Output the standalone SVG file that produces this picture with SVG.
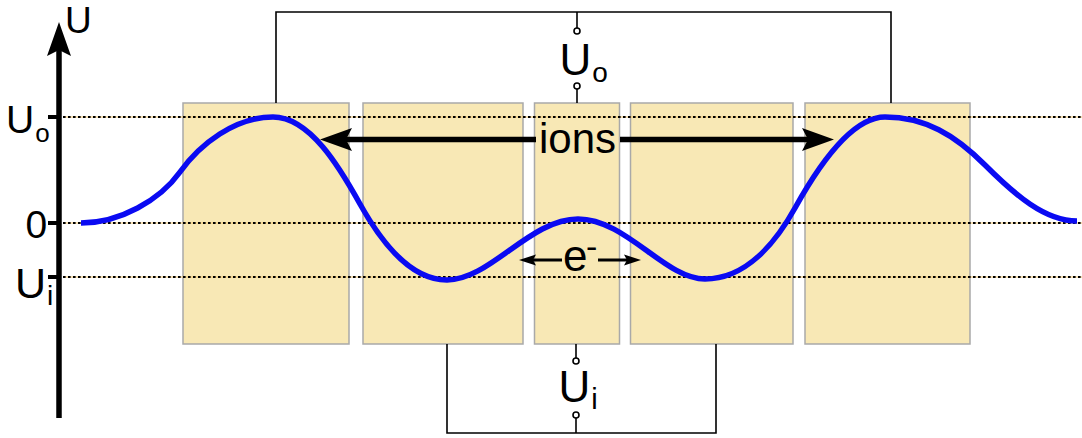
<svg xmlns="http://www.w3.org/2000/svg" width="1082" height="438" viewBox="0 0 1082 438">
<style>
.box{fill:#f8e8b5;stroke:#a9a9a9;stroke-width:1.5}
.wire{fill:none;stroke:#000;stroke-width:1.6}
.term{fill:#fff;stroke:#000;stroke-width:1.6}
.guide{stroke:#f2c46a;stroke-width:1}
.dots{stroke:#000;stroke-width:2;stroke-dasharray:2.6 2.4}
.lbl{font-family:"Liberation Sans",Arial,sans-serif;fill:#000}
.curve{fill:none;stroke:#0a0af2;stroke-width:5.5;stroke-linejoin:round}
</style>
<rect width="1082" height="438" fill="#fff"/>
<g id="electrodes">
<rect id="e1" class="box" x="183" y="103" width="166" height="241"/>
<rect id="e2" class="box" x="363" y="103" width="160" height="241"/>
<rect id="e3" class="box" x="534.5" y="103" width="85" height="241"/>
<rect id="e4" class="box" x="630.5" y="103" width="162.5" height="241"/>
<rect id="e5" class="box" x="805" y="103" width="165" height="241"/>
</g>
<g id="levels">
<line class="guide" x1="63" y1="117" x2="1082" y2="117"/>
<line class="guide" x1="63" y1="223" x2="1082" y2="223"/>
<line class="guide" x1="63" y1="277" x2="1082" y2="277"/>
<line class="dots" x1="63" y1="117" x2="1082" y2="117"/>
<line class="dots" x1="63" y1="223" x2="1082" y2="223"/>
<line class="dots" x1="63" y1="277" x2="1082" y2="277"/>
</g>
<g id="axis">
<line x1="59" y1="418" x2="59" y2="50" stroke="#000" stroke-width="5.5"/>
<polygon points="59,22 71,56 59,50 47,56" fill="#000"/>
<line x1="48" y1="117" x2="59" y2="117" stroke="#000" stroke-width="4"/>
<line x1="48" y1="223" x2="59" y2="223" stroke="#000" stroke-width="4"/>
<line x1="48" y1="277" x2="59" y2="277" stroke="#000" stroke-width="4"/>
<text class="lbl" x="65" y="33" font-size="37">U</text>
<text class="lbl" x="6" y="133" font-size="39">U<tspan font-size="26" dy="9" dx="1">o</tspan></text>
<text class="lbl" x="25.5" y="238" font-size="39">0</text>
<text class="lbl" x="15" y="298" font-size="43">U<tspan font-size="28" dy="7" dx="1">i</tspan></text>
</g>
<g id="potential">
<path class="curve" d="M81,223 C120,223 160,200 180,172 C200,144 235,117 273,117 C310,117 340,168 360,204 C380,240 410,280 447,280 C490,280 530,219 578,219 C626,219 665,279 705,279 C745,279 775,244 795,208 C815,172 850,117 885,117 C925,117 955,135 985,165 C1015,195 1045,221 1077,221"/>
</g>
<g id="connectors">
<polyline class="wire" points="276,103 276,12 891,12 891,103"/>
<line class="wire" x1="577" y1="12" x2="577" y2="28"/>
<line class="wire" x1="577" y1="89" x2="577" y2="103"/>
<circle class="term" cx="577" cy="31" r="3"/>
<circle class="term" cx="577" cy="86" r="3"/>
<polyline class="wire" points="447,344 447,433 716,433 716,344"/>
<line class="wire" x1="576" y1="344" x2="576" y2="358"/>
<line class="wire" x1="576" y1="418" x2="576" y2="433"/>
<circle class="term" cx="576" cy="361" r="3"/>
<circle class="term" cx="576" cy="415" r="3"/>
<line x1="536" y1="139.5" x2="346" y2="139.5" stroke="#000" stroke-width="5.5"/>
<polygon points="320,139.5 352,128 346,139.5 352,151" fill="#000"/>
<line x1="620" y1="139.5" x2="808" y2="139.5" stroke="#000" stroke-width="5.5"/>
<polygon points="834,139.5 802,128 808,139.5 802,151" fill="#000"/>
<line x1="562" y1="260" x2="532" y2="260" stroke="#000" stroke-width="3"/>
<polygon points="519,260 536,254.5 533,260 536,265.5" fill="#000"/>
<line x1="598" y1="260" x2="628" y2="260" stroke="#000" stroke-width="3"/>
<polygon points="641,260 624,254.5 627,260 624,265.5" fill="#000"/>
</g>
<g id="labels">
<text class="lbl" x="559.5" y="75" font-size="44">U<tspan font-size="28" dy="7" dx="1">o</tspan></text>
<text class="lbl" x="558.5" y="402" font-size="44">U<tspan font-size="29" dy="7" dx="1">i</tspan></text>
<text class="lbl" x="539" y="153" font-size="42">ions</text>
<text class="lbl" x="563" y="271" font-size="44">e<tspan font-size="34" dy="-13" dx="-1.5">-</tspan></text>
</g>
</svg>
